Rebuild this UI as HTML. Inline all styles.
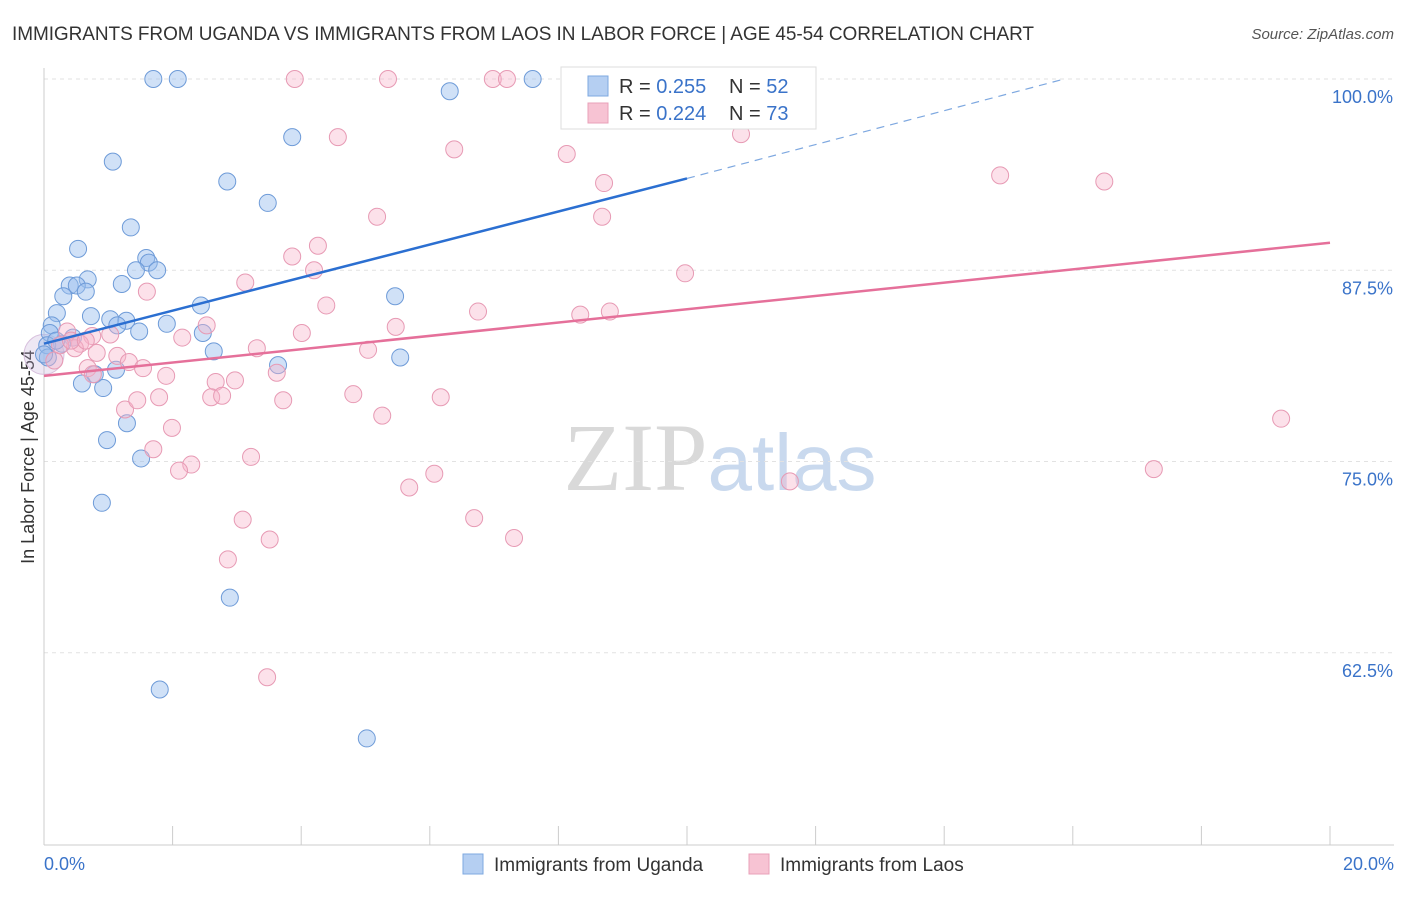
<!DOCTYPE html>
<html><head><meta charset="utf-8"><style>
body{margin:0;background:#fff;font-family:"Liberation Sans",sans-serif;}
</style></head><body>
<svg id="c" width="1406" height="892" xmlns="http://www.w3.org/2000/svg">
<text x="12" y="40" font-size="19" fill="#333" textLength="1022">IMMIGRANTS FROM UGANDA VS IMMIGRANTS FROM LAOS IN LABOR FORCE | AGE 45-54 CORRELATION CHART</text>
<text x="1394" y="39" font-size="15" fill="#555" text-anchor="end" font-style="italic">Source: ZipAtlas.com</text>
<text x="34" y="457" font-size="18" fill="#333" text-anchor="middle" transform="rotate(-90 34 457)">In Labor Force | Age 45-54</text>
<text x="720" y="490" font-size="96" fill="#d9d9d9" text-anchor="middle" font-family="Liberation Serif">ZIP<tspan fill="#c9d9ee" font-family="Liberation Sans" font-size="80">atlas</tspan></text>
<g id="grid"></g><g id="pts"></g><g id="lines"></g>
<g>
<rect x="561" y="67" width="255" height="62" fill="#fff" stroke="#ddd"/>
<rect x="588" y="76" width="20" height="20" fill="#b5cff2" stroke="#7ea8e0"/>
<rect x="588" y="103" width="20" height="20" fill="#f7c3d3" stroke="#e9a0b8"/>
<text x="619" y="93" font-size="20" fill="#333">R = <tspan fill="#3a73c9">0.255</tspan></text>
<text x="729" y="93" font-size="20" fill="#333">N = <tspan fill="#3a73c9">52</tspan></text>
<text x="619" y="120" font-size="20" fill="#333">R = <tspan fill="#3a73c9">0.224</tspan></text>
<text x="729" y="120" font-size="20" fill="#333">N = <tspan fill="#3a73c9">73</tspan></text>
</g>
<g>
<rect x="463" y="854" width="20" height="20" fill="#b5cff2" stroke="#7ea8e0"/>
<text x="494" y="871" font-size="19" fill="#333">Immigrants from Uganda</text>
<rect x="749" y="854" width="20" height="20" fill="#f7c3d3" stroke="#e9a0b8"/>
<text x="780" y="871" font-size="19" fill="#333">Immigrants from Laos</text>
</g>
</svg>
<script>
const yTicks=[100,87.5,75,62.5];
const yTickLabels=["100.0%","87.5%","75.0%","62.5%"];
const xTickLabels=["0.0%","20.0%"];
const ugX=[1.70,2.08,6.31,7.60,3.86,1.07,2.85,3.48,1.35,0.53,1.59,1.63,1.76,1.43,0.68,0.40,0.51,0.65,1.21,0.30,2.44,5.46,0.20,0.73,1.03,1.28,1.14,1.91,1.48,0.12,0.09,0.45,0.28,2.47,2.64,5.54,3.64,1.12,0.79,0.59,0.92,1.29,0.98,1.51,0.90,2.89,1.80,5.02,0.05,0.06,0.19,0.0];
const ugY=[100,100,99.2,100,96.2,94.6,93.3,91.9,90.3,88.9,88.3,88.0,87.5,87.5,86.9,86.5,86.5,86.1,86.6,85.8,85.2,85.8,84.7,84.5,84.3,84.2,83.9,84.0,83.5,83.9,83.4,83.1,82.7,83.4,82.2,81.8,81.3,81.0,80.7,80.1,79.8,77.5,76.4,75.2,72.3,66.1,60.1,56.9,82.6,81.8,82.9,82.0];
const laX=[3.90,5.35,6.98,7.20,4.57,6.38,8.13,10.84,8.71,14.87,16.49,5.18,8.68,4.26,3.86,4.20,9.97,3.13,1.60,4.39,6.75,8.34,8.80,2.53,5.47,4.01,1.03,2.15,0.36,0.75,0.56,0.48,3.31,5.04,0.82,1.14,1.32,1.54,0.68,0.76,1.90,3.62,2.67,2.97,1.26,1.45,1.79,2.60,2.77,3.72,4.81,6.17,1.99,1.70,5.26,19.24,3.22,2.29,2.10,6.07,5.68,11.60,17.26,3.09,6.69,3.51,7.31,2.86,3.47,0.16,0.25,0.42,0.65];
const laY=[100,100,100,100,96.2,95.4,95.1,96.4,93.2,93.7,93.3,91.0,91.0,89.1,88.4,87.5,87.3,86.7,86.1,85.2,84.8,84.6,84.8,83.9,83.8,83.4,83.3,83.1,83.5,83.2,82.7,82.4,82.4,82.3,82.1,81.9,81.5,81.1,81.1,80.7,80.6,80.8,80.2,80.3,78.4,79.0,79.2,79.2,79.3,79.0,79.4,79.2,77.2,75.8,78.0,77.8,75.3,74.8,74.4,74.2,73.3,73.7,74.5,71.2,71.3,69.9,70.0,68.6,60.9,81.6,82.6,82.9,82.9];
const ugLine=[82.7,93.5,100]; const ugLineX=[0,10,15.87];
const laLine=[80.6,89.3]; const laLineX=[0,20];
const NS="http://www.w3.org/2000/svg";
const X=v=>44+v*64.3, Y=v=>79+(100-v)*15.3;
function mk(t,a,p){const e=document.createElementNS(NS,t);for(const k in a)e.setAttribute(k,a[k]);document.getElementById(p).appendChild(e);return e;}
yTicks.forEach((t,i)=>{
 let l=mk('line',{x1:44,x2:1394,y1:Y(t),y2:Y(t),stroke:'#e2e2e2','stroke-dasharray':'4,4'},'grid');
 
 
 let tx=mk('text',{x:1393,y:Y(t)+24,'font-size':18,fill:'#3a73c9','text-anchor':'end'},'grid');tx.textContent=yTickLabels[i];
 
 
});
let ax=mk('line',{x1:44,x2:44,y1:68,y2:845,stroke:'#ccc'},'grid');


let bx=mk('line',{x1:44,x2:1394,y1:845,y2:845,stroke:'#ccc'},'grid');


for(let i=0;i<=10;i++){let t=mk('line',{x1:X(i*2),x2:X(i*2),y1:826,y2:845,stroke:'#ccc'},'grid');
 
 }
[[0,'start',44],[20,'end',1394]].forEach((d,i)=>{let t=mk('text',{x:d[2],y:870,'font-size':18,fill:'#3a73c9','text-anchor':d[1]},'grid');t.textContent=xTickLabels[i];
 
 });
let big=mk('circle',{cx:X(0),cy:Y(82),r:20,fill:'rgba(200,180,220,0.3)',stroke:'#d8c0dd'},'pts');


ugX.forEach((x,i)=>{let c=mk('circle',{cx:X(x),cy:Y(ugY[i]),r:8.5,fill:'rgba(150,188,238,0.45)',stroke:'#6e9bd8','stroke-width':1},'pts');
 
 });
laX.forEach((x,i)=>{let c=mk('circle',{cx:X(x),cy:Y(laY[i]),r:8.5,fill:'rgba(247,180,202,0.4)',stroke:'#e79ab4','stroke-width':1},'pts');
 
 });
let u1=mk('line',{x1:X(ugLineX[0]),y1:Y(ugLine[0]),x2:X(ugLineX[1]),y2:Y(ugLine[1]),stroke:'#2b6fd1','stroke-width':2.5},'lines');


let u2=mk('line',{x1:X(ugLineX[1]),y1:Y(ugLine[1]),x2:X(ugLineX[2]),y2:Y(ugLine[2]),stroke:'#7ea8e0','stroke-width':1.2,'stroke-dasharray':'8,6'},'lines');


let l1=mk('line',{x1:X(laLineX[0]),y1:Y(laLine[0]),x2:X(laLineX[1]),y2:Y(laLine[1]),stroke:'#e5709a','stroke-width':2.5},'lines');


</script>
</body></html>
